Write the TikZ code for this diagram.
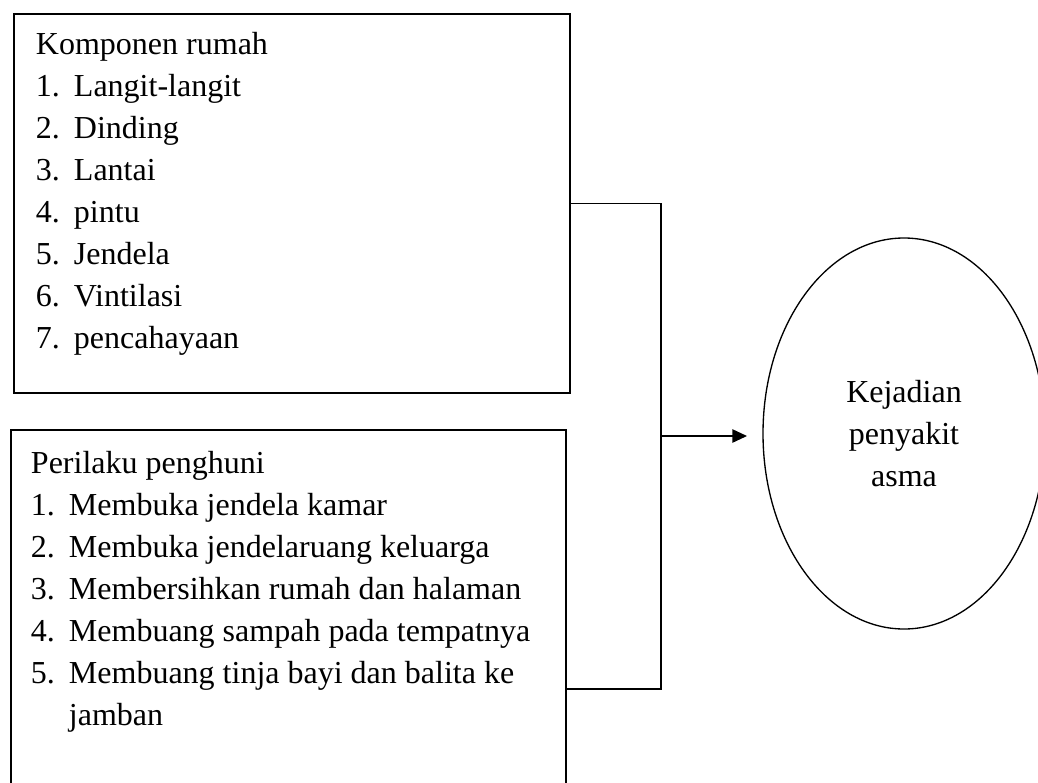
\documentclass[tikz,border=0pt]{standalone}
\usepackage{fontspec}
\setmainfont{Liberation Serif}
\usepackage{tikz}
\usetikzlibrary{shapes,arrows,arrows.meta,positioning}

\newdimen\px
\px=0.75pt
\newcommand{\butir}[2]{\par\hangindent=38\px\hangafter=1\noindent\makebox[38\px][l]{#1}#2\par}

\begin{document}
\begin{tikzpicture}[
    x=0.75pt, y=-0.75pt,
    every node/.style={font=\fontsize{24}{31.5}\selectfont},
    kotak/.style={rectangle, draw, line width=1.5pt, inner sep=0pt, anchor=north west},
    lingkaran/.style={ellipse, draw, line width=1pt, inner sep=0pt, minimum width=211.5pt, minimum height=293.25pt},
    garis/.style={draw, line width=1.2pt},
    panah/.style={garis, -{Triangle[length=11pt, width=10pt]}}
]
\useasboundingbox (0,0) rectangle (1038,782);

\node[kotak] (komponen) at (13,13) {\parbox[c][379\px][t]{556\px}{\raggedright\leftskip=22\px
    \rule{0pt}{40\px}Komponen rumah\par
    \butir{1.}{Langit-langit}
    \butir{2.}{Dinding}
    \butir{3.}{Lantai}
    \butir{4.}{pintu}
    \butir{5.}{Jendela}
    \butir{6.}{Vintilasi}
    \butir{7.}{pencahayaan}
}};

\node[kotak] (perilaku) at (10,429) {\parbox[c][518\px][t]{555\px}{\raggedright\leftskip=20\px
    \rule{0pt}{43\px}Perilaku penghuni\par
    \butir{1.}{Membuka jendela kamar}
    \butir{2.}{Membuka jendelaruang keluarga}
    \butir{3.}{Membersihkan rumah dan halaman}
    \butir{4.}{Membuang sampah pada tempatnya}
    \butir{5.}{Membuang tinja bayi dan balita ke}
    \butir{}{jamban}
}};

\node[lingkaran] (asma) at (904,433.5) {\parbox[c][150\px][t]{150\px}{\centering
    \rule{0pt}{43.5\px}Kejadian\\penyakit\\asma}};

\coordinate (sambung) at (661,436);
\coordinate (ujung) at (747,436);

\draw[garis] (komponen.east) -| (sambung) |- (perilaku.east);
\draw[panah] (sambung) -- (ujung);

\end{tikzpicture}
\end{document}
